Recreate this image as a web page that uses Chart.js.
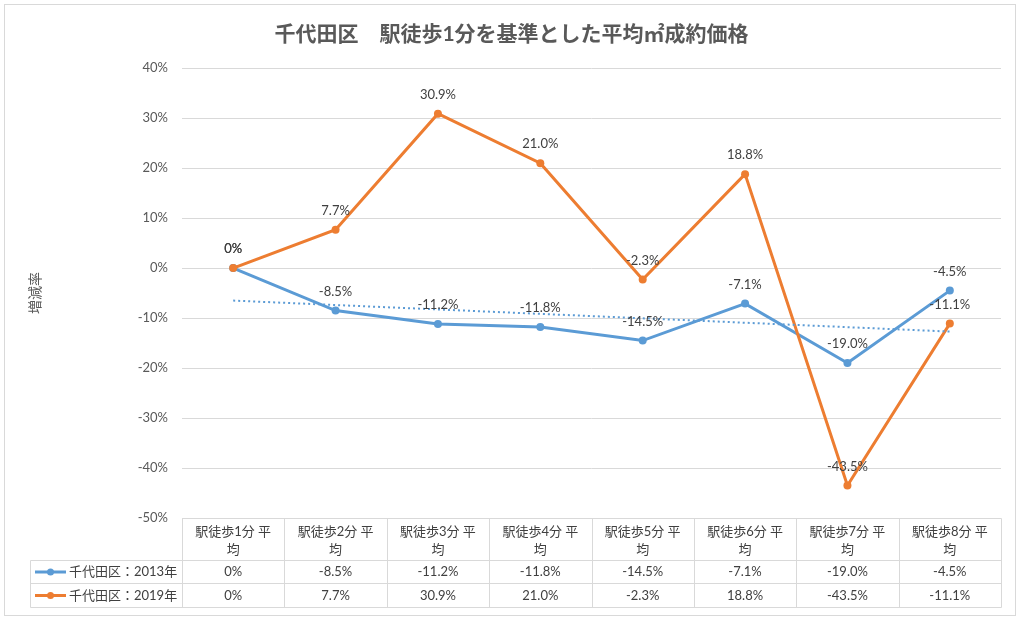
<!DOCTYPE html>
<html><head><meta charset="utf-8">
<script src="https://cdn.jsdelivr.net/npm/chart.js@4"></script>
<style>html,body{margin:0;padding:0;background:#fff}#wrap{width:1024px;height:624px}</style>
</head><body><div id="wrap"><canvas id="c" width="1024" height="624"></canvas></div>
<script>
const categories = ['駅徒歩1分 平均','駅徒歩2分 平均','駅徒歩3分 平均','駅徒歩4分 平均','駅徒歩5分 平均','駅徒歩6分 平均','駅徒歩7分 平均','駅徒歩8分 平均'];
const seriesNames = ['千代田区：2013年','千代田区：2019年'];
const values2013 = [0, -8.5, -11.2, -11.8, -14.5, -7.1, -19.0, -4.5];
const values2019 = [0, 7.7, 30.9, 21.0, -2.3, 18.8, -43.5, -11.1];
const trend2013 = [-6.5, null, null, null, null, null, null, -12.7];
const yTickValues = [-50, -40, -30, -20, -10, 0, 10, 20, 30, 40];
const titleText = '千代田区　駅徒歩1分を基準とした平均㎡成約価格';
const yAxisTitle = '増減率';

const FONT = "Lato, 'Noto Sans CJK JP', sans-serif";
const BLUE = '#5B9BD5', ORANGE = '#ED7D31';
const fmt = v => v === 0 ? '0%' : v.toFixed(1) + '%';

const frame = {
  id: 'frame',
  beforeDraw(chart) {
    const ctx = chart.ctx;
    ctx.save();
    ctx.fillStyle = '#fff';
    ctx.fillRect(0, 0, chart.width, chart.height);
    ctx.strokeStyle = '#d9d9d9';
    ctx.lineWidth = 1;
    ctx.strokeRect(4.5, 4.5, 1011, 611);
    ctx.restore();
  }
};

const dataLabels = {
  id: 'dataLabels',
  afterDatasetsDraw(chart) {
    const ctx = chart.ctx;
    ctx.save();
    ctx.font = '13px ' + FONT;
    ctx.fillStyle = '#404040';
    ctx.textAlign = 'center';
    ctx.textBaseline = 'middle';
    [0, 1].forEach(di => {
      const meta = chart.getDatasetMeta(di);
      const ds = chart.data.datasets[di];
      meta.data.forEach((pt, i) => {
        ctx.fillText(fmt(ds.data[i]), pt.x, pt.y - 19);
      });
    });
    ctx.restore();
  }
};

const dataTable = {
  id: 'dataTable',
  afterDraw(chart) {
    const ctx = chart.ctx;
    const xs = chart.scales.x;
    const area = chart.chartArea;
    const right = Math.round(area.right) + 0.5;
    const left = Math.round(area.left) + 0.5;
    const top = Math.round(area.bottom) + 0.5;
    const r1 = top + 42, r2 = r1 + 23, r3 = r2 + 24;
    const legLeft = 30.5;
    const colW = (area.right - area.left) / categories.length;
    ctx.save();
    ctx.strokeStyle = '#d9d9d9';
    ctx.lineWidth = 1;
    ctx.beginPath();
    ctx.moveTo(left, top); ctx.lineTo(right, top);
    [r1, r2, r3].forEach(y => { ctx.moveTo(legLeft, y); ctx.lineTo(right, y); });
    for (let i = 0; i <= categories.length; i++) {
      const x = Math.round(area.left + i * colW) + 0.5;
      ctx.moveTo(x, top); ctx.lineTo(x, r3);
    }
    ctx.moveTo(legLeft, r1); ctx.lineTo(legLeft, r3);
    ctx.stroke();

    ctx.fillStyle = '#404040';
    ctx.font = '13px ' + FONT;
    ctx.textAlign = 'center';
    ctx.textBaseline = 'middle';
    categories.forEach((c, i) => {
      const cx = xs.getPixelForValue(i);
      ctx.fillText(c.slice(0, -1), cx, top + 13);
      ctx.fillText(c.slice(-1), cx, top + 31);
      ctx.fillText(fmt(values2013[i]), cx, (r1 + r2) / 2);
      ctx.fillText(fmt(values2019[i]), cx, (r2 + r3) / 2);
    });
    const rows = [[(r1 + r2) / 2, BLUE, seriesNames[0]], [(r2 + r3) / 2, ORANGE, seriesNames[1]]];
    rows.forEach(([y, col, name]) => {
      ctx.strokeStyle = col;
      ctx.lineWidth = 3;
      ctx.beginPath(); ctx.moveTo(35, y); ctx.lineTo(66, y); ctx.stroke();
      ctx.fillStyle = col;
      ctx.beginPath(); ctx.arc(50.5, y, 3.5, 0, Math.PI * 2); ctx.fill();
      ctx.fillStyle = '#404040';
      ctx.textAlign = 'left';
      ctx.fillText(name, 69, y);
    });
    ctx.restore();
  }
};

new Chart(document.getElementById('c'), {
  type: 'line',
  data: {
    labels: categories,
    datasets: [
      { label: seriesNames[1], data: values2019, borderColor: ORANGE, backgroundColor: ORANGE, borderWidth: 3, pointRadius: 4, pointBorderWidth: 0, pointBackgroundColor: ORANGE, order: 1, tension: 0 },
      { label: seriesNames[0], data: values2013, borderColor: BLUE, backgroundColor: BLUE, borderWidth: 3, pointRadius: 4, pointBorderWidth: 0, pointBackgroundColor: BLUE, order: 2, tension: 0 },
      { label: 'trend', data: trend2013, borderColor: BLUE, borderWidth: 2, borderDash: [2, 3], pointRadius: 0, spanGaps: true, order: 0 }
    ]
  },
  options: {
    responsive: false,
    animation: false,
    devicePixelRatio: 1,
    layout: { padding: { left: 22, right: 23, top: 0, bottom: 106 } },
    plugins: {
      legend: { display: false },
      tooltip: { enabled: false },
      title: { display: true, text: titleText, color: '#595959', font: { size: 21, weight: 'bold', family: FONT }, padding: { top: 22, bottom: 21 } }
    },
    scales: {
      x: { display: false, offset: true },
      y: {
        min: -50, max: 40,
        afterBuildTicks(scale) { scale.ticks = yTickValues.map(v => ({ value: v })); },
        afterFit(scale) { scale.width = 182 - 22; },
        ticks: { callback: v => v + '%', color: '#595959', font: { size: 13, family: FONT }, padding: 14 },
        grid: { color: '#d9d9d9', drawTicks: false },
        border: { display: false },
        title: { display: true, text: yAxisTitle, color: '#595959', font: { size: 14, family: FONT }, padding: { top: 5, bottom: 0 } }
      }
    }
  },
  plugins: [frame, dataLabels, dataTable]
});
</script>
</body></html>
